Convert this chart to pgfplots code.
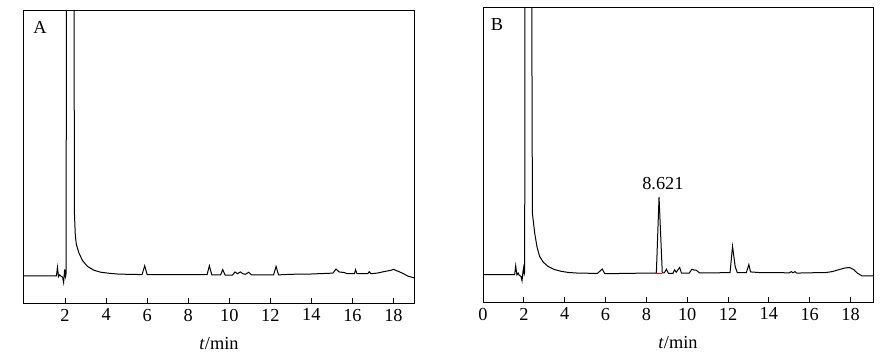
\documentclass[border=0pt]{standalone}
\usepackage{pgfplots}
\pgfplotsset{compat=1.18}
\usepackage{fontspec}
\setmainfont{Liberation Serif}
\newcommand{\lblfont}{\fontsize{11}{13}\selectfont}
\begin{document}
\begin{tikzpicture}
\useasboundingbox (-14.4pt,-33pt) rectangle (519.6pt,181.8pt);
\pgfplotsset{
  chrom/.style={
    scale only axis,
    width=234pt,
    xmin=0,
    ymin=0, ymax=100,
    ytick=\empty,
    xtick pos=bottom,
    tick align=inside,
    major tick length=3pt,
    axis line style={line width=0.6pt},
    every tick/.style={line width=0.6pt, black},
    xlabel={\textit{t}/min},
    xlabel style={yshift=-2.5pt},
    /pgf/number format/assume math mode=true,
    tick label style={font=\lblfont},
    label style={font=\lblfont},
    clip=true,
  }
}
\begin{axis}[chrom, height=175.8pt, xmax=19, xtick={2,4,...,18},
  at={(0pt,0pt)}, anchor=south west]
\addplot[black, line width=0.6pt] coordinates {
(0,9.3)(1.58,9.3)(1.63,12.2)(1.68,9.0)(1.73,9.6)(1.80,9.2)(1.88,8.8)(1.93,7.0)(1.98,11.5)(2.02,9.0)(2.05,10)(2.07,120)(2.43,120)(2.46,30)(2.50,23)(2.55,20)(2.68,17)(2.85,14.5)(3.09,12.5)(3.4,11.2)(3.74,10.5)(4.2,10.1)(4.55,9.9)(5.0,9.8)(5.75,9.7)(5.88,12.7)(6.0,9.7)(7,9.7)(8.92,9.7)(9.03,12.7)(9.15,9.6)(9.58,9.6)(9.68,11.4)(9.8,9.5)(10.15,9.5)(10.28,10.6)(10.4,10.0)(10.54,10.6)(10.66,10.0)(10.78,9.8)(10.95,10.5)(11.08,9.6)(11.5,9.6)(12.16,9.6)(12.28,12.5)(12.4,9.6)(13,9.8)(14,9.9)(15.05,10.2)(15.2,11.6)(15.35,10.6)(15.6,10.4)(15.75,10.0)(16.1,10.0)(16.15,11.4)(16.22,10.0)(16.75,10.0)(16.82,10.7)(16.9,10.0)(17.2,10.2)(17.6,10.8)(17.9,11.2)(18.0,11.5)(18.1,11.2)(18.4,10.3)(18.7,9.2)(19,8.6)
};
\node[anchor=center, font=\lblfont] at (rel axis cs:0.041,0.942) {A};
\end{axis}
\begin{axis}[chrom, height=177pt, xmax=19.1, xtick={0,2,...,18},
  at={(275.4pt,0.6pt)}, anchor=south west]
\addplot[black, line width=0.6pt] coordinates {
(0,9.3)(1.55,9.3)(1.60,12.3)(1.66,9.2)(1.72,9.8)(1.78,9.0)(1.86,8.7)(1.91,7.2)(1.96,10.5)(1.99,11.7)(2.02,9.5)(2.04,10)(2.06,120)(2.38,120)(2.42,30)(2.53,23.4)(2.65,18.5)(2.77,15.5)(2.95,13.5)(3.18,12.1)(3.5,11.0)(3.83,10.4)(4.2,10.0)(4.65,9.8)(5.6,9.7)(5.72,10.4)(5.84,11.2)(5.96,9.6)(6.1,9.6)(7,9.7)(8.0,9.8)(8.49,9.8)(8.621,35.6)(8.78,9.9)(8.88,9.9)(8.98,11.1)(9.08,9.7)(9.3,9.7)(9.38,10.9)(9.46,10.1)(9.63,11.7)(9.72,9.8)(10.1,9.8)(10.23,11.1)(10.35,10.8)(10.44,10.8)(10.6,9.9)(11.5,9.9)(12.1,10.0)(12.22,18.9)(12.35,12)(12.45,10)(12.9,10)(13.02,12.7)(13.1,10.2)(13.5,10)(15.0,9.9)(15.1,10.3)(15.18,9.9)(15.28,10.3)(15.36,9.8)(16,9.9)(16.8,10.0)(17.1,10.3)(17.4,10.9)(17.7,11.5)(17.95,11.7)(18.15,11.0)(18.35,9.7)(18.55,8.9)(19.1,8.9)
};
\addplot[red, line width=0.6pt] coordinates {(8.49,9.8)(8.76,9.8)};
\node[anchor=base, font=\lblfont] at (axis cs:8.81,38.3) {8.621};
\node[anchor=center, font=\lblfont] at (rel axis cs:0.036,0.942) {B};
\end{axis}
\end{tikzpicture}
\end{document}
